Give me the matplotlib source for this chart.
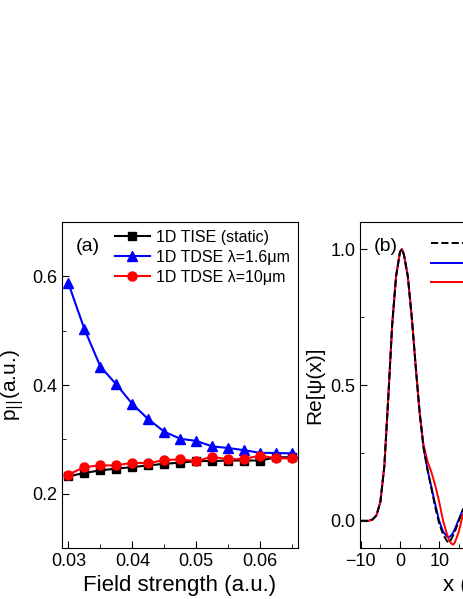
import matplotlib
matplotlib.use("Agg")
import matplotlib.pyplot as plt
import numpy as np

plt.rcParams["font.family"] = ["Liberation Sans", "DejaVu Sans"]

field = [0.03, 0.0325, 0.035, 0.0375, 0.04, 0.0425, 0.045, 0.0475, 0.05,
         0.0525, 0.055, 0.0575, 0.06, 0.0625, 0.065]
p_tise = [0.232, 0.238, 0.243, 0.246, 0.249, 0.252, 0.255, 0.257, 0.260,
          0.260, 0.261, 0.261, 0.261, 0.267, 0.267]
p_tdse16 = [0.587, 0.503, 0.434, 0.401, 0.365, 0.337, 0.314, 0.301, 0.297,
            0.287, 0.284, 0.280, 0.275, 0.275, 0.274]
p_tdse10 = [0.235, 0.249, 0.252, 0.252, 0.257, 0.256, 0.262, 0.263, 0.260,
            0.268, 0.263, 0.264, 0.270, 0.265, 0.265]

xw = [-10, -8, -7, -6, -5, -4, -3, -2, -1, 0, 0.5, 1, 2, 3, 4, 5, 6, 7, 8,
      9, 10, 11, 12, 12.5, 13, 13.5, 14, 15, 16, 17]
psi_static = [0, 0, 0.005, 0.02, 0.07, 0.2, 0.45, 0.72, 0.9, 0.99, 1.0,
              0.98, 0.9, 0.75, 0.57, 0.4, 0.27, 0.19, 0.12, 0.05, -0.01,
              -0.05, -0.075, -0.08, -0.07, -0.055, -0.04, 0.0, 0.04, 0.06]
psi_16 = [0, 0, 0.005, 0.02, 0.07, 0.2, 0.45, 0.72, 0.9, 0.99, 1.0,
          0.98, 0.9, 0.75, 0.57, 0.4, 0.27, 0.19, 0.125, 0.06, 0.0,
          -0.04, -0.058, -0.06, -0.055, -0.045, -0.03, 0.005, 0.04, 0.06]
psi_10 = [0, 0, 0.005, 0.02, 0.07, 0.2, 0.45, 0.72, 0.9, 0.99, 1.0,
          0.98, 0.9, 0.75, 0.57, 0.4, 0.28, 0.22, 0.18, 0.13, 0.07,
          0.0, -0.05, -0.07, -0.082, -0.088, -0.08, -0.04, 0.02, 0.05]

fig = plt.figure(figsize=(4.63, 5.99), dpi=100)
W, H = 463, 599

# panel (a)
ax = fig.add_axes([62 / W, 1 - 548 / H, 236 / W, 326 / H])
ax.plot(field, p_tise, "k-", marker="s", ms=6, label="1D TISE (static)")
ax.plot(field, p_tdse16, "-", color="#0000ff", marker="^", ms=7, label="1D TDSE \u03bb=1.6\u03bcm")
ax.plot(field, p_tdse10, "-", color="#ff0000", marker="o", ms=6.5, label="1D TDSE \u03bb=10\u03bcm")
ax.set_xlim(0.029, 0.0659)
ax.set_ylim(0.1, 0.7)
ax.set_xticks([0.03, 0.04, 0.05, 0.06])
ax.set_xticklabels(["0.03", "0.04", "0.05", "0.06"])
ax.set_yticks([0.2, 0.4, 0.6])
ax.set_yticks([0.3, 0.5], minor=True)
ax.set_xticks([0.035, 0.045, 0.055, 0.065], minor=True)
ax.tick_params(direction="in", labelsize=13, length=5)
ax.tick_params(which="minor", direction="in", length=3)
ax.set_xlabel("Field strength (a.u.)", fontsize=16)
ax.set_ylabel(r"p$_{||}$(a.u.)", fontsize=15)
ax.text(0.06, 0.95, "(a)", transform=ax.transAxes, fontsize=14, va="top")
ax.legend(loc="upper right", frameon=False, fontsize=11.5, handlelength=2.2,
          labelspacing=0.3, borderaxespad=0.1, handletextpad=0.4)

# panel (b), cut off by the figure edge
bx = fig.add_axes([360 / W, 1 - 548 / H, 236 / W, 326 / H])
bx.plot(xw, psi_static, "k--", lw=1.4, label="Static", zorder=3)
bx.plot(xw, psi_16, "-", color="#0000ff", lw=1.4, label="TDSE \u03bb=1.6\u03bcm")
bx.plot(xw, psi_10, "-", color="#ff0000", lw=1.4, label="TDSE \u03bb=10\u03bcm")
bx.set_xlim(-10.2, 50)
bx.set_ylim(-0.1, 1.1)
bx.set_xticks([-10, 0, 10, 20, 30, 40, 50])
bx.set_yticks([0.0, 0.5, 1.0])
bx.set_yticks([0.25, 0.75], minor=True)
bx.set_xticks([-5, 5, 15, 25, 35, 45], minor=True)
bx.tick_params(direction="in", labelsize=13, length=5)
bx.tick_params(which="minor", direction="in", length=3)
bx.set_xlabel("x (a.u.)", fontsize=16)
bx.set_ylabel("Re[\u03c8(x)]", fontsize=15)
bx.text(0.06, 0.95, "(b)", transform=bx.transAxes, fontsize=14, va="top")
bx.legend(loc="upper left", bbox_to_anchor=(0.24, 1.0), frameon=False,
          fontsize=11.5, handlelength=2.2, labelspacing=0.3, handletextpad=0.4)

fig.savefig("out.png", dpi=100)
